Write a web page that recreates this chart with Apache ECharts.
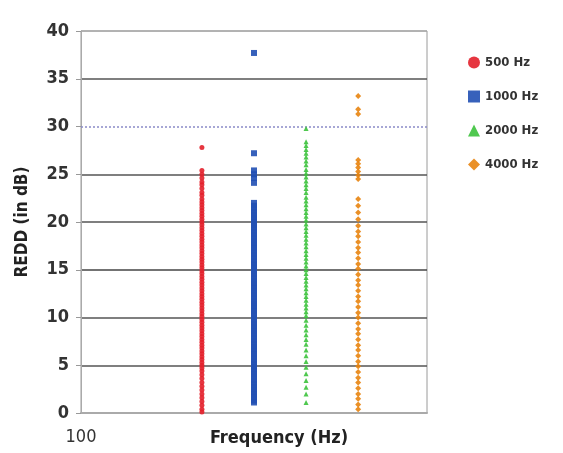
<!DOCTYPE html>
<html>
<head>
<meta charset="utf-8">
<script src="https://cdn.jsdelivr.net/npm/echarts@6/dist/echarts.min.js"></script>
<style>html,body{margin:0;padding:0;background:#fff}#c{width:563px;height:453px}</style>
</head>
<body>
<div id="c"></div>
<script>
var seriesNames = ['500 Hz', '1000 Hz', '2000 Hz', '4000 Hz'];
var frequencies = [500, 1000, 2000, 4000];
var yTicks = [0, 5, 10, 15, 20, 25, 30, 35, 40];

var redd500 = [27.8, 25.4, 25.0, 24.6, 24.2, 23.9, 23.5, 23.1, 22.8, 22.4, 22.1, 21.8, 21.5, 21.2, 20.9, 20.6,
  20.3, 20.0, 19.7, 19.4, 19.1, 18.8, 18.5, 18.2, 17.9, 17.6, 17.3, 17.0, 16.7, 16.4, 16.1, 15.8, 15.5, 15.2,
  14.9, 14.6, 14.3, 14.0, 13.7, 13.4, 13.1, 12.8, 12.5, 12.2, 11.9, 11.6, 11.3, 11.0, 10.7, 10.4, 10.1, 9.8,
  9.5, 9.2, 8.9, 8.6, 8.3, 8.0, 7.7, 7.4, 7.1, 6.8, 6.5, 6.2, 5.9, 5.6, 5.3, 5.0, 4.7, 4.4, 4.0, 3.6,
  3.2, 2.8, 2.4, 2.0, 1.6, 1.2, 0.8, 0.4, 0.1];
var redd1000 = [37.7, 27.2, 25.4, 25.0, 24.6, 24.1, 22.0, 21.7, 21.4, 21.1, 20.8, 20.5, 20.2, 19.9, 19.6, 19.3,
  19.0, 18.7, 18.4, 18.1, 17.8, 17.5, 17.2, 16.9, 16.6, 16.3, 16.0, 15.7, 15.4, 15.1, 14.8, 14.5, 14.2, 13.9,
  13.6, 13.3, 13.0, 12.7, 12.4, 12.1, 11.8, 11.5, 11.2, 10.9, 10.6, 10.3, 10.0, 9.7, 9.4, 9.1, 8.8, 8.5,
  8.2, 7.9, 7.6, 7.3, 7.0, 6.7, 6.4, 6.1, 5.8, 5.5, 5.2, 4.9, 4.6, 4.3, 4.0, 3.7, 3.4, 3.1, 2.8, 2.5,
  2.2, 1.9, 1.6, 1.3, 1.1];
var redd2000 = [29.8, 28.4, 28.0, 27.6, 27.2, 26.8, 26.4, 26.0, 25.5, 25.1, 24.7, 24.3, 23.9, 23.5, 23.1, 22.6,
  22.2, 21.8, 21.4, 21.0, 20.6, 20.2, 19.8, 19.4, 19.0, 18.6, 18.2, 17.8, 17.4, 17.0, 16.6, 16.2, 15.8, 15.4,
  15.0, 14.6, 14.2, 13.8, 13.4, 13.0, 12.6, 12.2, 11.8, 11.4, 11.0, 10.6, 10.2, 9.7, 9.2, 8.7, 8.2, 7.7,
  7.2, 6.6, 6.0, 5.4, 4.8, 4.1, 3.4, 2.7, 2.0, 1.1];
var redd4000 = [33.2, 31.8, 31.3, 26.5, 26.1, 25.7, 25.3, 24.9, 24.5, 22.4, 21.7, 21.0, 20.3, 19.6, 19.0, 18.5,
  17.9, 17.3, 16.8, 16.2, 15.6, 15.1, 14.5, 13.9, 13.4, 12.8, 12.2, 11.7, 11.1, 10.5, 10.0, 9.4, 8.8, 8.3,
  7.7, 7.1, 6.6, 6.0, 5.4, 4.9, 4.3, 3.7, 3.2, 2.6, 2.0, 1.5, 0.9, 0.4];

var valueSets = [redd500, redd1000, redd2000, redd4000];
var colors = ['#e3202b', '#2150b4', '#3cc23c', '#e8840f'];
var symbols = ['circle', 'rect', 'triangle', 'diamond'];
var sizes = [5, 6, 5, 6];
var condensed = '"DejaVu Sans Condensed", "Liberation Sans Narrow", "Roboto Condensed", sans-serif';

var series = seriesNames.map(function (n, i) {
  return {
    name: n, type: 'scatter', symbol: symbols[i], symbolSize: sizes[i],
    itemStyle: { color: colors[i], opacity: 0.9 },
    data: valueSets[i].map(function (v) { return [frequencies[i], v]; }),
    z: 3
  };
});
series[0].markLine = {
  silent: true, symbol: 'none', label: { show: false },
  lineStyle: { color: '#8a8ac8', type: [2, 2], width: 1.5 },
  data: [{ yAxis: 30 }], z: 1
};

var chart = echarts.init(document.getElementById('c'));
chart.setOption({
  animation: false,
  backgroundColor: '#fff',
  grid: { left: 81, right: 136, top: 31, bottom: 40, outerBoundsMode: 'none', containLabel: false,
    show: true, borderColor: '#9a9a9a', borderWidth: 1 },
  legend: {
    orient: 'vertical', left: 463, top: 51, itemGap: 21, itemWidth: 12, itemHeight: 12,
    data: seriesNames.map(function (n, i) { return { name: n, icon: symbols[i] }; }),
    textStyle: { fontFamily: condensed, fontSize: 13, fontWeight: 'bold', color: '#333' }
  },
  xAxis: {
    type: 'log', logBase: 10, min: 100, max: 10000,
    name: 'Frequency (Hz)', nameLocation: 'middle', nameGap: 16, nameMoveOverlap: false,
    nameTextStyle: { fontFamily: condensed, fontSize: 18, fontWeight: 'bold', color: '#222', padding: [0, 0, 0, 50] },
    axisLine: { show: true, lineStyle: { color: '#aaa', width: 2 } },
    axisTick: { show: false },
    splitLine: { show: false },
    minorTick: { show: false },
    axisLabel: {
      margin: 15, fontFamily: condensed, fontSize: 18, color: '#333',
      formatter: function (v) { return v === 100 ? '100' : ''; }
    }
  },
  yAxis: {
    type: 'value', min: 0, max: 40, interval: 5,
    name: 'REDD (in dB)', nameLocation: 'middle', nameGap: 50, nameMoveOverlap: false,
    nameTextStyle: { fontFamily: condensed, fontSize: 17, fontWeight: 'bold', color: '#222' },
    axisLine: { show: true, lineStyle: { color: '#aaa', width: 1 } },
    axisTick: { show: true, length: 5, lineStyle: { color: '#999' } },
    axisLabel: {
      margin: 12, fontFamily: condensed, fontSize: 18, fontWeight: 'bold', color: '#333',
      formatter: function (v) { return yTicks.indexOf(v) >= 0 ? String(v) : ''; }
    },
    splitLine: {
      show: true,
      lineStyle: { color: ['#aaa', '#555', '#555', '#444', '#555', '#555', 'rgba(0,0,0,0)', '#555', '#aaa'], width: 1.5 }
    }
  },
  series: series
});
</script>
</body>
</html>
